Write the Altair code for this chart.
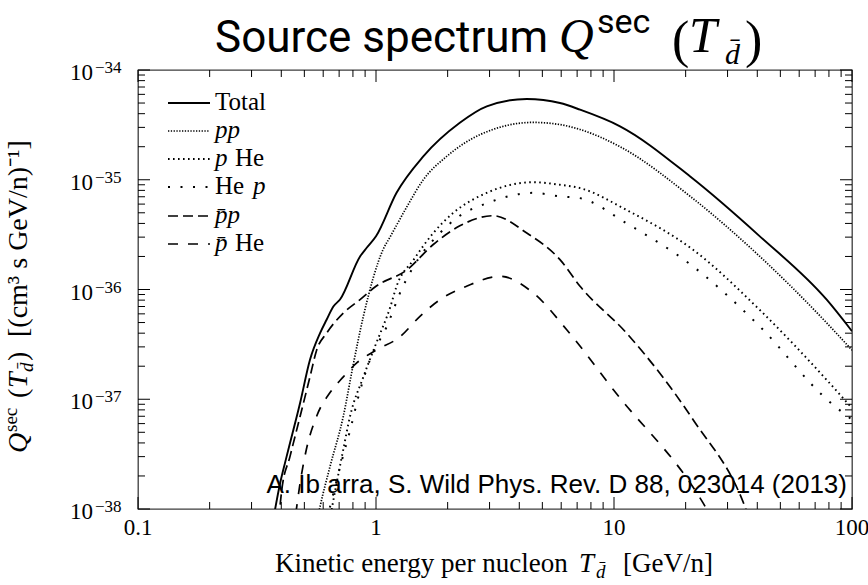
import altair as alt
import pandas as pd

# ---------------- data ----------------
total_x = [0.37, 0.395, 0.421, 0.48, 0.528, 0.582, 0.62, 0.662, 0.706, 0.857, 0.914, 1.0, 1.22, 1.58, 2.25, 2.92, 4.3, 5.93, 7.2, 10.6, 20.9, 41, 78.3, 100]
total_y = [8e-39, 1.7e-38, 3.0e-38, 9.3e-38, 2.29e-37, 4.0e-37, 5.3e-37, 7.0e-37, 8.1e-37, 2.0e-36, 2.4e-36, 3.05e-36, 7.6e-36, 1.63e-35, 3.3e-35, 4.66e-35, 5.45e-35, 5.0e-35, 4.35e-35, 3.07e-35, 1.07e-35, 3.05e-36, 8.07e-37, 4.17e-37]

pp_x = [0.56, 0.582, 0.641, 0.729, 0.80, 0.885, 1.07, 1.15, 1.35, 1.58, 1.98, 2.74, 4.58, 5.93, 7.2, 10.6, 20.9, 41, 78.3, 100]
pp_y = [7e-39, 1.05e-38, 2.44e-38, 7.0e-38, 2.0e-37, 5.7e-37, 2.3e-36, 3.05e-36, 5.7e-36, 1.0e-35, 1.63e-35, 2.58e-35, 3.33e-35, 3.18e-35, 2.87e-35, 2.0e-35, 7.06e-36, 2.0e-36, 4.96e-37, 2.8e-37]

phe_x = [0.64, 0.662, 0.729, 0.778, 0.885, 1.0, 1.15, 1.22, 1.44, 1.74, 2.11, 2.92, 4.58, 5.93, 7.2, 11.3, 21.5, 41, 78.3, 100]
phe_y = [8e-39, 1.2e-38, 3.5e-38, 7.0e-38, 1.6e-37, 3.2e-37, 7.0e-37, 1.07e-36, 1.87e-36, 3.27e-36, 4.98e-36, 7.6e-36, 9.5e-36, 9.0e-36, 8.4e-36, 5.3e-36, 2.3e-36, 6.5e-37, 1.5e-37, 8.3e-38]

hep_x = [0.62, 0.641, 0.706, 0.778, 0.857, 0.944, 1.11, 1.28, 1.53, 1.8, 2.25, 2.92, 4.58, 5.93, 7.2, 11.3, 21.5, 41, 78.3, 100]
hep_y = [8e-39, 1.05e-38, 2.4e-38, 5.2e-38, 1.2e-37, 2.3e-37, 4.6e-37, 1.0e-36, 2.0e-36, 3.05e-36, 4.7e-36, 6.1e-36, 7.6e-36, 7.06e-36, 6.8e-36, 4.0e-36, 1.62e-36, 4.6e-37, 1.0e-37, 6.5e-38]

pbp_x = [0.39, 0.402, 0.435, 0.48, 0.528, 0.563, 0.62, 0.729, 0.857, 1.0, 1.35, 1.74, 2.25, 3.11, 4.3, 5.93, 7.2, 11.3, 21.5, 35.5, 38]
pbp_y = [8e-39, 1.5e-38, 3.0e-38, 7e-38, 1.6e-37, 2.8e-37, 4.0e-37, 6.1e-37, 8.1e-37, 1.07e-36, 1.51e-36, 2.57e-36, 3.8e-36, 4.7e-36, 3.27e-36, 1.87e-36, 1.07e-36, 4.0e-37, 6.5e-38, 1.05e-38, 7e-39]

pbhe_x = [0.46, 0.48, 0.51, 0.563, 0.641, 0.729, 0.83, 1.0, 1.26, 1.53, 1.86, 2.4, 3.32, 4.58, 6.33, 10, 23.7, 26]
pbhe_y = [9e-39, 1.73e-38, 3.5e-38, 7e-38, 1.15e-37, 1.6e-37, 2.14e-37, 2.8e-37, 3.7e-37, 5.7e-37, 8.1e-37, 1.07e-36, 1.32e-36, 9.3e-37, 4.3e-37, 1.2e-37, 1.13e-38, 8e-39]

x_major = [0.1, 1, 10, 100]
x_major_labels = ["0.1", "1", "10", "100"]
x_minor = [0.2, 0.3, 0.4, 0.5, 0.6, 0.7, 0.8, 0.9, 2, 3, 4, 5, 6, 7, 8, 9, 20, 30, 40, 50, 60, 70, 80, 90]
y_major = [1e-38, 1e-37, 1e-36, 1e-35, 1e-34]
y_major_exp = ["\u221238", "\u221237", "\u221236", "\u221235", "\u221234"]
y_minor = [k * 10.0 ** e for e in range(-38, -34) for k in range(2, 10)]

# ---------------- layout ----------------
W, H = 714, 439
SERIF = "Liberation Serif"
xscale = alt.Scale(type="log", domain=[0.1, 100], nice=False)
yscale = alt.Scale(type="log", domain=[1e-38, 1e-34], nice=False)

series = [
    ("Total", total_x, total_y, dict(strokeWidth=1.9)),
    ("pp", pp_x, pp_y, dict(strokeWidth=1.7, strokeDash=[1.3, 1.5])),
    ("pHe", phe_x, phe_y, dict(strokeWidth=1.9, strokeDash=[1.6, 3.4])),
    ("Hep", hep_x, hep_y, dict(strokeWidth=2.0, strokeDash=[2, 10.5])),
    ("pbar_p", pbp_x, pbp_y, dict(strokeWidth=1.7, strokeDash=[10, 5])),
    ("pbar_He", pbhe_x, pbhe_y, dict(strokeWidth=1.7, strokeDash=[10, 10])),
]

layers = []
for name, xs, ys, st in series:
    df = pd.DataFrame({"T": xs, "Q": ys})
    layers.append(
        alt.Chart(df).mark_line(color="black", clip=True, strokeCap="butt", interpolate="monotone", **st).encode(
            x=alt.X("T:Q", scale=xscale, axis=None),
            y=alt.Y("Q:Q", scale=yscale, axis=None),
        )
    )

# inward ticks on all four sides
def xticks(vals, length):
    d = pd.DataFrame({"v": vals})
    out = []
    for y0, y1 in [(H - length, H), (0, length)]:
        out.append(alt.Chart(d).mark_rule(color="black", strokeWidth=1).encode(
            x=alt.X("v:Q", scale=xscale, axis=None), y=alt.value(y0), y2=alt.value(y1)))
    return out

def yticks(vals, length):
    d = pd.DataFrame({"v": vals})
    out = []
    for x0, x1 in [(0, length), (W - length, W)]:
        out.append(alt.Chart(d).mark_rule(color="black", strokeWidth=1).encode(
            y=alt.Y("v:Q", scale=yscale, axis=None), x=alt.value(x0), x2=alt.value(x1)))
    return out

layers += xticks(x_major, 12) + xticks(x_minor, 7) + yticks(y_major, 12) + yticks(y_minor, 7)

# tick labels
xl = pd.DataFrame({"v": x_major, "t": x_major_labels})
layers.append(alt.Chart(xl).mark_text(font=SERIF, fontSize=23, align="center", baseline="alphabetic", color="black").encode(
    x=alt.X("v:Q", scale=xscale, axis=None), y=alt.value(H + 26), text="t:N"))
yl = pd.DataFrame({"v": y_major, "e": y_major_exp})
layers.append(alt.Chart(yl).mark_text(text="10", font=SERIF, fontSize=23, align="right", baseline="alphabetic", dy=10, color="black").encode(
    y=alt.Y("v:Q", scale=yscale, axis=None), x=alt.value(-45)))
layers.append(alt.Chart(yl).mark_text(font=SERIF, fontSize=17, align="left", baseline="alphabetic", dy=3, color="black").encode(
    y=alt.Y("v:Q", scale=yscale, axis=None), x=alt.value(-43), text="e:N"))

one = alt.Data(values=[{}])

def txt(s, x, y, size, font=SERIF, style="normal", align="left", angle=0):
    kw = dict(text=s, font=font, fontSize=size, fontStyle=style, align=align, baseline="alphabetic", color="black")
    if angle:
        kw["angle"] = angle
    return alt.Chart(one).mark_text(**kw).encode(x=alt.value(x), y=alt.value(y))

def seg(x1, x2, y, st):
    return alt.Chart(one).mark_rule(color="black", strokeCap="butt", **st).encode(
        x=alt.value(x1), x2=alt.value(x2), y=alt.value(y))

# legend
rows = [33, 61, 89, 117, 146, 174]
for r, (name, _, _, st) in zip(rows, series):
    layers.append(seg(30, 72, r, st))
layers += [
    txt("Total", 77, rows[0] + 7, 25),
    txt("pp", 77, rows[1] + 7, 25, style="italic"),
    txt("p", 77, rows[2] + 7, 25, style="italic"),
    txt("He", 97, rows[2] + 7, 25),
    txt("He", 77, rows[3] + 7, 25),
    txt("p", 115, rows[3] + 7, 25, style="italic"),
    txt("p\u0304p", 77, rows[4] + 7, 25, style="italic"),
    txt("p\u0304", 77, rows[5] + 7, 25, style="italic"),
    txt("He", 97, rows[5] + 7, 25),
]

# citation
layers.append(txt("A. Ib arra, S. Wild Phys. Rev. D 88, 023014 (2013)", W - 5, 423, 26, font="Liberation Sans", align="right"))

# title
layers += [
    txt("Source spectrum", 77, -18, 44, font="Roboto"),
    txt("Q", 421, -18, 48, style="italic"),
    txt("sec", 459, -37, 34, font="Roboto"),
    txt("(", 534, -13, 52),
    txt("T", 551, -18, 50, style="italic"),
    txt("d\u0304", 587, -6, 30, style="italic"),
    txt(")", 607, -13, 52),
]

# x-axis title
layers += [
    txt("Kinetic energy per nucleon", 137, H + 63, 27),
    txt("T", 441, H + 63, 27, style="italic"),
    txt("d\u0304", 458, H + 69, 19, style="italic"),
    txt("[GeV/n]", 485, H + 63, 27),
]

# y-axis title (rotated)
layers += [
    txt("Q", -111, 383, 28, style="italic", angle=270),
    txt("sec", -121, 362, 19, angle=270),
    txt("(", -111, 328, 28, angle=270),
    txt("T", -111, 318, 28, style="italic", angle=270),
    txt("d\u0304", -105, 302, 19, style="italic", angle=270),
    txt(")", -111, 291, 28, angle=270),
    txt("[(cm\u00b3 s GeV/n)\u207b\u00b9]", -111, 267, 28, angle=270),
]

chart = alt.layer(*layers).properties(
    width=W, height=H,
    autosize=alt.AutoSizeParams(type="none"),
    padding={"left": 138, "top": 70, "right": 16, "bottom": 76},
    background="white",
).configure_view(stroke="#3c3c3c", strokeWidth=1.3)

chart.save("out.html", embed_options={"renderer": "svg", "actions": False})
